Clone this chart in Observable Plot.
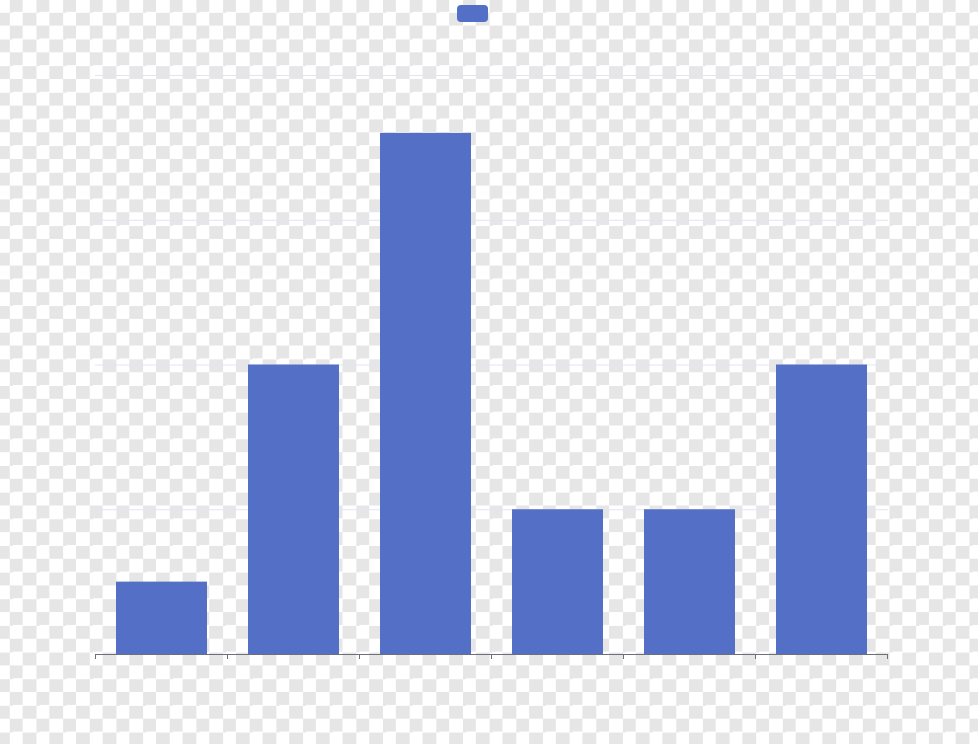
<!DOCTYPE html>
<html>
<head>
<meta charset="utf-8">
<script src="https://cdn.jsdelivr.net/npm/d3@7"></script>
<script src="https://cdn.jsdelivr.net/npm/@observablehq/plot@0.6"></script>
<style>
  html, body { margin: 0; padding: 0; }
  body {
    width: 978px; height: 744px; overflow: hidden; position: relative;
    background-color: #ffffff;
    background-image: conic-gradient(#e6e6e6 25%, transparent 0 50%, #e6e6e6 0 75%, transparent 0);
    background-size: 26.667px 26.667px;
    background-position: -4px -1px;
    font-family: "Noto Sans", sans-serif;
  }
  #legend { position: absolute; left: 457px; top: 5px; width: 31px; height: 17px; border-radius: 4px; background: #5470c6; }
  #chart { position: absolute; left: 0; top: 0; }
</style>
</head>
<body>
<div id="legend"></div>
<div id="chart"></div>
<script>
const categories = ["衬衫", "羊毛衫", "雪纺衫", "裤子", "高跟鞋", "袜子"];
const sales = [5, 20, 36, 10, 10, 20];
const yTicks = [10, 20, 30, 40];

const data = categories.map((c, i) => ({category: c, value: sales[i]}));

// axis ticks at category band boundaries (ECharts boundaryGap style)
function boundaryTicks(index, scales, values, dimensions) {
  const x = scales.x;
  const y = scales.y;
  const step = categories.length > 1 ? x(categories[1]) - x(categories[0]) : dimensions.width;
  const bw = x.bandwidth ? x.bandwidth() : step * 0.69;
  const pad = (step - bw) / 2;
  const xs = categories.map(c => x(c) - pad);
  xs.push(x(categories[categories.length - 1]) + bw + pad);
  const y0 = y(0);
  const g = d3.create("svg:g").attr("stroke", "#6e7079").attr("stroke-width", 1);
  for (const px of xs) {
    g.append("line").attr("x1", px).attr("x2", px).attr("y1", y0).attr("y2", y0 + 5);
  }
  return g.node();
}

const chart = Plot.plot({
  width: 978,
  height: 744,
  marginLeft: 95,
  marginRight: 90,
  marginTop: 75,
  marginBottom: 90,
  style: {background: "transparent"},
  x: {domain: categories, paddingInner: 0.31, paddingOuter: 0.155, axis: null},
  y: {domain: [0, 40], axis: null},
  marks: [
    Plot.ruleY(yTicks, {stroke: "#e0e6f1", strokeWidth: 1}),
    Plot.barY(data, {x: "category", y: "value", fill: "#5470c6"}),
    Plot.ruleY([0], {stroke: "#6e7079", strokeWidth: 1}),
    boundaryTicks
  ]
});
document.getElementById("chart").appendChild(chart);
</script>
</body>
</html>
